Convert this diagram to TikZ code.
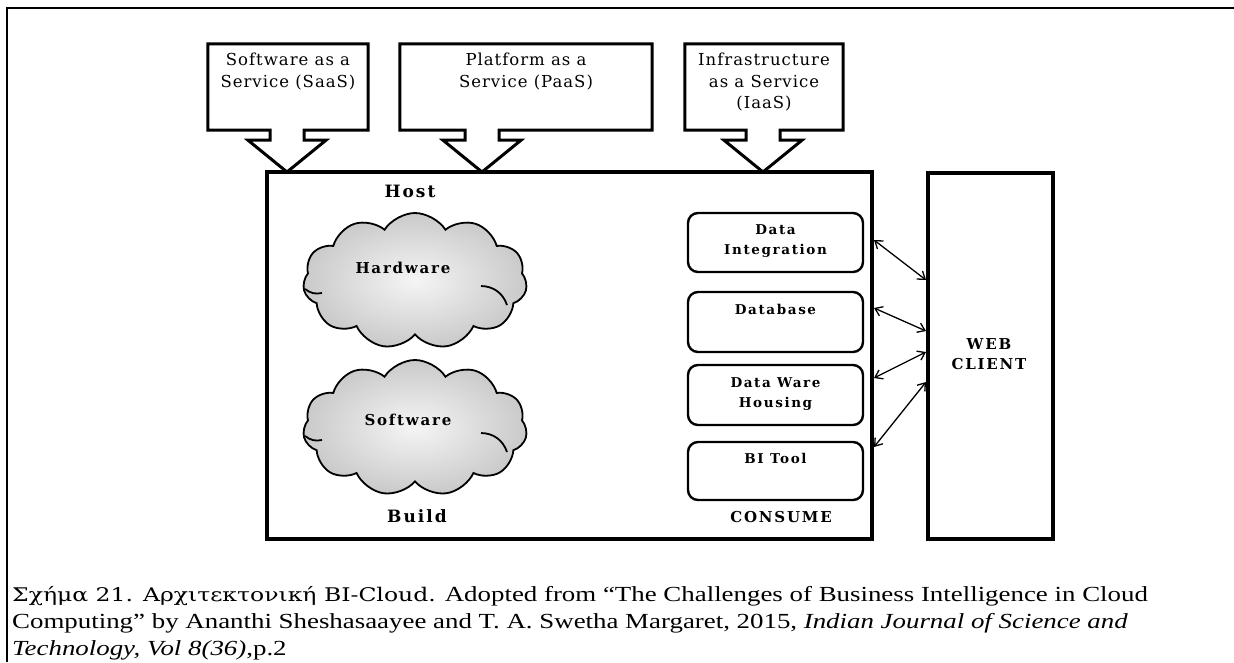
\documentclass[tikz,border=0pt]{standalone}
\usepackage{fontspec}
\setmainfont{Liberation Serif}
\newfontfamily\capfont[FakeStretch=1.25]{Liberation Serif}
\newfontfamily\greekcap[FakeStretch=1.25]{DejaVu Serif}
\newfontfamily\diagfont[LetterSpace=6]{DejaVu Serif}
\newfontfamily\diagbold[LetterSpace=12]{DejaVu Serif}
\usetikzlibrary{shapes.symbols,calc,arrows.meta}

% outline of a box with a down-pointing block arrow (callout)
\newcommand\downcallout[2]{%
  \draw[calloutline] (#1.north west) -- (#1.north east) -- (#1.south east)
    -- ($(#2 |- #1.south)+(17,0)$) -- ++(0,10) -- ++(22,0) -- (#2)
    -- ($(#2 |- #1.south)+(-39,10)$) -- ++(22,0) -- ++(0,-10)
    -- (#1.south west) -- cycle;}

\begin{document}
\begin{tikzpicture}[x=1pt,y=-1pt,
  calloutline/.style={line width=3pt,line join=miter},
  svcbox/.style={minimum height=86,inner sep=0},
  svctext/.style={font=\diagfont\fontsize{16.5}{21.5}\selectfont,align=center,inner sep=0,anchor=north},
  hostbox/.style={draw,line width=3.6pt,inner sep=0},
  clientbox/.style={draw,line width=3.2pt,inner sep=0,minimum width=125,minimum height=366},
  bold/.style={font=\diagbold\bfseries\fontsize{#1}{20}\selectfont,inner sep=0,align=center},
  comp/.style={draw,line width=2.4pt,rounded corners=10pt,minimum width=175,inner sep=0},
  cloudnode/.style={cloud,cloud puffs=11,cloud puff arc=115,aspect=1.65,draw,line width=1.8pt,
    minimum width=224,minimum height=136,inner sep=0,inner color=gray!8,outer color=gray!42},
  tuck/.style={line width=1.8pt},
  link/.style={line width=1.3pt,{Straight Barb[length=7pt,width=10pt]}-{Straight Barb[length=7pt,width=10pt]}},
  captext/.style={anchor=base west,inner sep=0,font=\capfont\fontsize{21.5}{27}\selectfont}]

\useasboundingbox (0,0) rectangle (1234,662);
\fill[white] (0,0) rectangle (1234,662);

% page frame lines
\draw[line width=1.6pt] (7,662) -- (7,8) -- (1234,8);

% host and client boxes
\node[hostbox,minimum width=605,minimum height=367] (host) at (569.5,355.5) {};
\node[clientbox] (client) at (990.5,356) {};
\node[bold=15] (clienttext) at (989,354) {WEB\\CLIENT};

% service boxes with arrows into the host
\node[svcbox,minimum width=160] (saas) at (288,87) {};
\node[svcbox,minimum width=252] (paas) at (526,87) {};
\node[svcbox,minimum width=158] (iaas) at (764,87) {};
\coordinate (saastip) at (287,172);
\coordinate (paastip) at (482,172);
\coordinate (iaastip) at (763,172);
\downcallout{saas}{saastip}
\downcallout{paas}{paastip}
\downcallout{iaas}{iaastip}
\node[svctext] (saastext) at ([yshift=-9]saas.north) {Software as a\\Service (SaaS)};
\node[svctext] (paastext) at ([yshift=-9]paas.north) {Platform as a\\Service (PaaS)};
\node[svctext] (iaastext) at ([yshift=-9]iaas.north) {Infrastructure\\as a Service\\(IaaS)};

% build side
\node[bold=17] (hostlabel) at (410,191) {Host};
\node[cloudnode] (hw) at (415,281) {};
\node[cloudnode] (sw) at (415,428) {};
\draw[tuck] ([shift={(66,5)}]hw.center) to[bend left=35] ([shift={(92,24)}]hw.center);
\draw[tuck] ([shift={(-110,8)}]hw.center) to[bend right=25] ([shift={(-93,12)}]hw.center);
\draw[tuck] ([shift={(66,5)}]sw.center) to[bend left=35] ([shift={(92,24)}]sw.center);
\draw[tuck] ([shift={(-110,8)}]sw.center) to[bend right=25] ([shift={(-93,12)}]sw.center);
\node[bold=15] (hwtext) at (403,268) {Hardware};
\node[bold=15] (swtext) at (408,420) {Software};
\node[bold=17] (buildlabel) at (417,516) {Build};

% consume side
\node[comp,minimum height=59] (dint) at (775.5,242.5) {};
\node[comp,minimum height=60] (dbase) at (775.5,322) {};
\node[comp,minimum height=60] (dware) at (775.5,395) {};
\node[comp,minimum height=58] (bitool) at (775.5,471) {};
\node[bold=13.5,anchor=north] (dinttext) at ([yshift=-13]dint.north) {Data\\Integration};
\node[bold=13.5,anchor=north] (dbasetext) at ([yshift=-13]dbase.north) {Database};
\node[bold=13.5,anchor=north] (dwaretext) at ([yshift=-14]dware.north) {Data Ware\\Housing};
\node[bold=13.5,anchor=north] (bitooltext) at ([yshift=-12]bitool.north) {BI Tool};
\node[bold=15] (consumelabel) at (781,517) {CONSUME};

% links between components and the web client
\coordinate (l1) at (874,240); \coordinate (r1) at (926,280);
\coordinate (l2) at (874,308); \coordinate (r2) at (926,331);
\coordinate (l3) at (874,378); \coordinate (r3) at (926,352);
\coordinate (l4) at (874,447); \coordinate (r4) at (926,382);
\draw[link] (l1) -- (r1);
\draw[link] (l2) -- (r2);
\draw[link] (l3) -- (r3);
\draw[link] (l4) -- (r4);

% caption
\node[captext] (cap1) at (12,601) {{\greekcap\fontsize{18.8}{27}\selectfont Σχήμα 21. Αρχιτεκτονική BI-Cloud.} Adopted from “The Challenges of Business Intelligence in Cloud};
\node[captext] (cap2) at (12,628) {Computing” by Ananthi Sheshasaayee and T. A. Swetha Margaret, 2015, \textit{Indian Journal of Science and}};
\node[captext] (cap3) at (12,655) {\textit{Technology, Vol 8(36)},p.2};
\end{tikzpicture}
\end{document}
